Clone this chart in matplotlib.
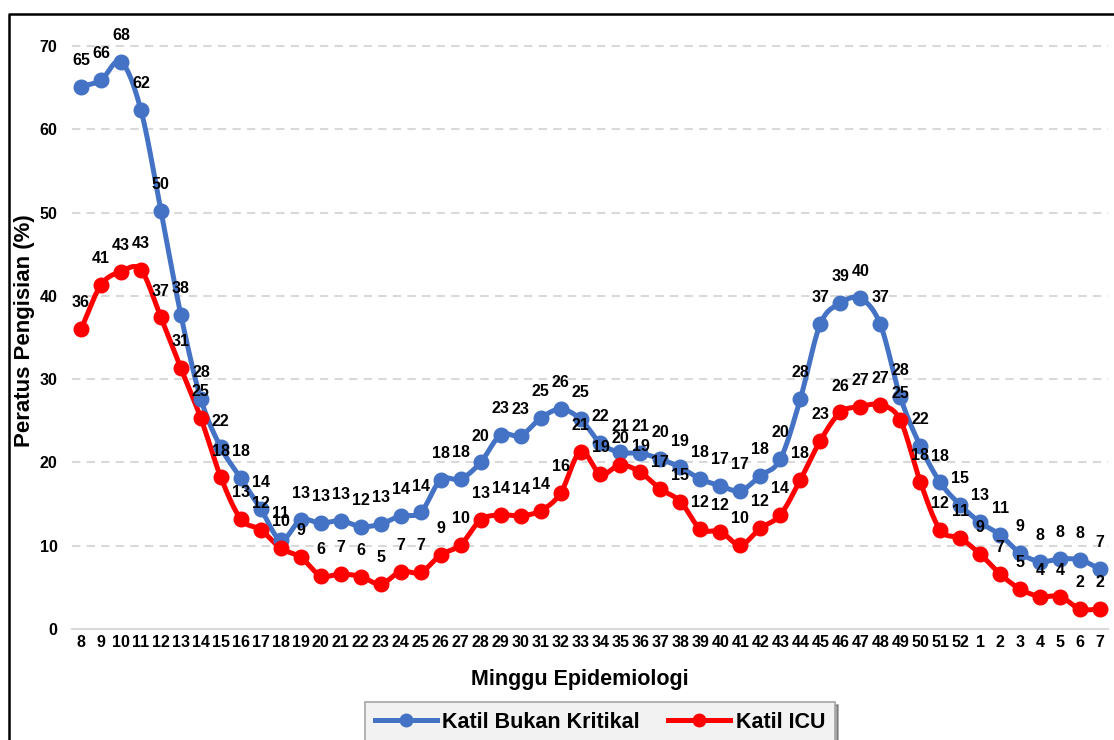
import numpy as np
import matplotlib
matplotlib.use("Agg")
import matplotlib.pyplot as plt
from matplotlib.lines import Line2D

weeks = [str(w) for w in range(8, 53)] + [str(w) for w in range(1, 8)]

bukan_kritikal = [65.1, 65.9, 68.1, 62.3, 50.2, 37.7, 27.6, 21.8, 18.1, 14.4,
                  10.7, 13.1, 12.7, 13.0, 12.3, 12.6, 13.6, 14.0, 17.9, 18.0,
                  20.0, 23.3, 23.2, 25.3, 26.4, 25.2, 22.3, 21.2, 21.1, 20.4,
                  19.4, 18.0, 17.2, 16.6, 18.4, 20.4, 27.6, 36.6, 39.1, 39.7,
                  36.6, 27.9, 22.0, 17.6, 14.9, 12.8, 11.3, 9.1, 8.1, 8.4,
                  8.3, 7.2]

icu = [36.0, 41.3, 42.9, 43.1, 37.4, 31.3, 25.3, 18.2, 13.2, 11.9,
       9.7, 8.6, 6.4, 6.6, 6.3, 5.4, 6.9, 6.8, 8.9, 10.1,
       13.1, 13.7, 13.6, 14.2, 16.3, 21.3, 18.6, 19.7, 18.8, 16.8,
       15.3, 12.0, 11.7, 10.1, 12.1, 13.7, 17.9, 22.6, 26.0, 26.7,
       26.9, 25.1, 17.7, 11.9, 10.9, 9.0, 6.6, 4.8, 3.9, 3.9,
       2.4, 2.4]

series_names = ["Katil Bukan Kritikal", "Katil ICU"]
colors = ["#4472C4", "#FF0000"]
yticks = [0, 10, 20, 30, 40, 50, 60, 70]

plt.rcParams['font.family'] = ['Liberation Sans', 'DejaVu Sans']


def smooth(xs, ys, n=12):
    """Catmull-Rom (Excel-like) smoothing of the rendered line."""
    xs = np.asarray(xs, float)
    ys = np.asarray(ys, float)
    px = np.concatenate([[2 * xs[0] - xs[1]], xs, [2 * xs[-1] - xs[-2]]])
    py = np.concatenate([[2 * ys[0] - ys[1]], ys, [2 * ys[-1] - ys[-2]]])
    ox, oy = [], []
    t = np.linspace(0, 1, n, endpoint=False)
    for i in range(1, len(px) - 2):
        for P, out in ((px, ox), (py, oy)):
            p0, p1, p2, p3 = P[i - 1], P[i], P[i + 1], P[i + 2]
            c1 = p1 + (p2 - p0) / 6
            c2 = p2 - (p3 - p1) / 6
            out.extend((1 - t) ** 3 * p1 + 3 * (1 - t) ** 2 * t * c1
                       + 3 * (1 - t) * t ** 2 * c2 + t ** 3 * p2)
    ox.append(xs[-1])
    oy.append(ys[-1])
    return np.array(ox), np.array(oy)


W, H = 1114, 740
fig = plt.figure(figsize=(W / 100, H / 100), dpi=100)
ax = fig.add_axes([72 / W, (H - 629) / H, (1108 - 72) / W, (629 - 29.3) / H])

x = np.arange(len(weeks))
for vals, c in zip([bukan_kritikal, icu], colors):
    sx, sy = smooth(x, vals)
    ax.plot(sx, sy, color=c, lw=3.6, solid_capstyle='round', zorder=3)
    ax.plot(x, vals, 'o', color=c, ms=10.5, zorder=4)
    for xi, v in zip(x, vals):
        ax.annotate(f"{v:.0f}", (xi, v), xytext=(0, 19), textcoords='offset points',
                    ha='center', va='center', fontsize=11.5, fontweight='bold',
                    color='black', zorder=5, annotation_clip=False)

ax.set_xlim(-0.45, len(weeks) - 1 + 0.4)
ax.set_ylim(0, 72)
ax.set_yticks(yticks)
ax.set_xticks(x)
ax.set_xticklabels(weeks)
for lab in ax.get_xticklabels() + ax.get_yticklabels():
    lab.set_fontweight('bold')
    lab.set_fontsize(11.5)
ax.tick_params(axis='both', length=0)
ax.tick_params(axis='y', pad=10.5)
ax.tick_params(axis='x', pad=4)

for yv in yticks[1:]:
    ax.axhline(yv, color='#d9d9d9', lw=1.5, ls=(0, (4, 3)), zorder=1)
for s in ['top', 'right', 'left']:
    ax.spines[s].set_visible(False)
ax.spines['bottom'].set_color('#d9d9d9')
ax.spines['bottom'].set_linewidth(1.5)

ax.set_xlabel("Minggu Epidemiologi", fontsize=15.5, fontweight='bold')
ax.xaxis.set_label_coords(0.4905, -0.066)
ax.set_ylabel("Peratus Pengisian (%)", fontsize=16, fontweight='bold')
ax.yaxis.set_label_coords(-0.0357, 0.497)

handles = [Line2D([0], [0], color=c, lw=3.6, marker='o', ms=9) for c in colors]
leg = fig.legend(handles, series_names, loc='upper center',
                 bbox_to_anchor=(600 / W, (H - 702) / H), ncol=2,
                 prop={'size': 15.5, 'weight': 'bold'}, frameon=True,
                 fancybox=False, shadow=True, handlelength=2.9,
                 handletextpad=0.25, columnspacing=1.3, borderpad=0.45,
                 borderaxespad=0)
leg.get_frame().set_facecolor('#f2f2f2')
leg.get_frame().set_edgecolor('#a6a6a6')
leg.get_frame().set_linewidth(1.2)

# outer chart border (left and top visible)
fig.add_artist(Line2D([9 / W, 9 / W, 1], [0, (H - 14) / H, (H - 14) / H],
                      transform=fig.transFigure, color='black', lw=1.8))

fig.savefig("out.png", dpi=100)
